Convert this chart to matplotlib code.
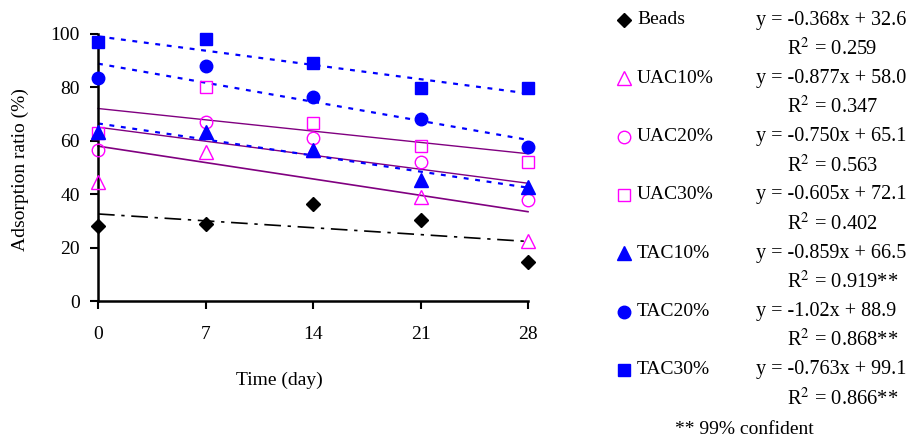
import matplotlib
matplotlib.use("Agg")
import matplotlib.pyplot as plt
from matplotlib.lines import Line2D

plt.rcParams["font.family"] = ["Liberation Serif", "DejaVu Serif"]

# ---- data -----------------------------------------------------------
days = [0, 7, 14, 21, 28]

beads = [28.0, 29.0, 36.2, 30.3, 14.5]
uac10 = [44.7, 55.7, 56.5, 39.1, 22.6]
uac20 = [56.4, 67.2, 60.9, 52.2, 37.8]
uac30 = [62.8, 80.3, 66.5, 58.2, 52.2]
tac10 = [63.4, 63.2, 56.5, 45.3, 42.8]
tac20 = [83.6, 87.9, 76.3, 68.2, 57.8]
tac30 = [96.9, 98.2, 89.0, 79.7, 79.7]

names = ["Beads", "UAC10%", "UAC20%", "UAC30%", "TAC10%", "TAC20%", "TAC30%"]
slopes = [-0.368, -0.877, -0.750, -0.605, -0.859, -1.02, -0.763]
intercepts = [32.6, 58.0, 65.1, 72.1, 66.5, 88.9, 99.1]
eq_text = ["y = -0.368x + 32.6", "y = -0.877x + 58.0", "y = -0.750x + 65.1",
           "y = -0.605x + 72.1", "y = -0.859x + 66.5", "y = -1.02x + 88.9",
           "y = -0.763x + 99.1"]
r2_text = ["0.259", "0.347", "0.563", "0.402", "0.919**", "0.868**", "0.866**"]

series = [beads, uac10, uac20, uac30, tac10, tac20, tac30]

# ---- styles ----------------------------------------------------------
MAG = "#ff00ff"
BLUE = "#0000ff"
PURPLE = "#800080"
styles = [
    dict(marker="D", ms=7, mfc="black", mec="black"),
    dict(marker="^", ms=9.5, mfc="none", mec=MAG, mew=1.0),
    dict(marker="o", ms=9, mfc="none", mec=MAG, mew=1.0),
    dict(marker="s", ms=8.5, mfc="none", mec=MAG, mew=1.0),
    dict(marker="^", ms=9.5, mfc=BLUE, mec=BLUE),
    dict(marker="o", ms=9, mfc=BLUE, mec=BLUE),
    dict(marker="s", ms=8.5, mfc=BLUE, mec=BLUE),
]
trend_styles = [
    dict(color="black", lw=1.2, dashes=(10, 4, 2, 4)),
    dict(color=PURPLE, lw=1.2, ls="-"),
    dict(color=PURPLE, lw=1.0, ls="-"),
    dict(color=PURPLE, lw=1.0, ls="-"),
    dict(color=BLUE, lw=1.6, dashes=(2.2, 3)),
    dict(color=BLUE, lw=1.6, dashes=(2.2, 3)),
    dict(color=BLUE, lw=1.6, dashes=(2.2, 3)),
]

FS = 14
W, H = 908, 441
fig = plt.figure(figsize=(W / 100, H / 100), dpi=100)
ax = fig.add_axes([98 / W, (H - 301) / H, 430 / W, 267 / H])

# trend lines
x0, x1 = days[0], days[-1]
for m, b, st in zip(slopes, intercepts, trend_styles):
    ax.plot([x0, x1], [b + m * x0, b + m * x1], zorder=2, **st)

# points
for ys, st in zip(series, styles):
    ax.plot(days, ys, ls="none", zorder=3, **st)

ax.set_xlim(0, 28)
ax.set_ylim(0, 100)
ax.set_xticks(days)
ax.set_yticks(range(0, 101, 20))
ax.tick_params(direction="out", width=1.5, labelsize=FS, length=6)
ax.tick_params(axis="y", pad=7)
ax.tick_params(axis="x", pad=12)
for side in ["top", "right"]:
    ax.spines[side].set_visible(False)
for side in ["left", "bottom"]:
    ax.spines[side].set_linewidth(1.8)
for ln in ax.lines:
    ln.set_clip_on(False)

fig.text(20 / W, 1 - 170 / H, "Adsorption ratio (%)", rotation=90,
         ha="center", va="center", fontsize=FS)
fig.text(279 / W, 1 - 380 / H, "Time (day)", ha="center", va="center",
         fontsize=FS)

# ---- legend with equations -------------------------------------------
row0, gap = 20, 58.3
for i, (name, st) in enumerate(zip(names, styles)):
    yy = 1 - (row0 + i * gap) / H
    fig.add_artist(Line2D([624 / W], [yy], transform=fig.transFigure,
                          ls="none", **st))
    fig.text(637 / W, yy, name, ha="left", va="center", fontsize=FS)
    fig.text(756 / W, yy, eq_text[i], ha="left", va="center", fontsize=14.5)
    fig.text(787 / W, 1 - (row0 + i * gap + 29) / H,
             "R$^{2}$ = " + r2_text[i], ha="left", va="center",
             fontsize=14.8, math_fontfamily="stix")

fig.text(744 / W, 1 - 429 / H, "** 99% confident", ha="center",
         va="center", fontsize=FS)

fig.savefig("out.png", dpi=100)
